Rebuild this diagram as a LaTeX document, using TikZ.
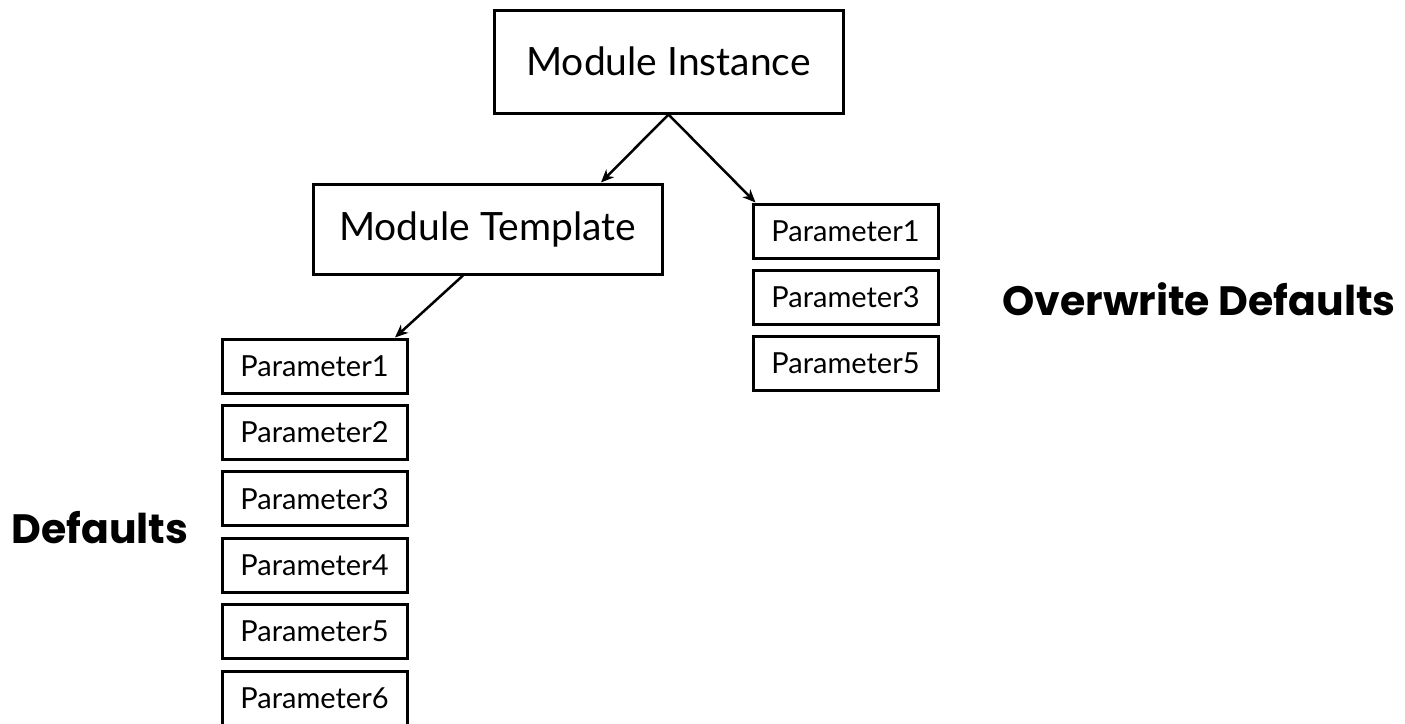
\documentclass[tikz,border=0pt]{standalone}
\usepackage{fontspec}
\usepackage{tikz}
\usetikzlibrary{arrows.meta,%
		positioning}
\newfontfamily\boxfont{Lato}
\newfontfamily\notefont{Poppins}

\tikzset{modulebox/.style={draw, line width=3pt, minimum width=349pt, inner sep=0pt, font=\boxfont\fontsize{39}{42}\selectfont},
         parambox/.style={draw, line width=3pt, minimum width=185pt, minimum height=54pt, inner sep=0pt, font=\boxfont\fontsize{29}{32}\selectfont},
         note/.style={font=\notefont\bfseries\fontsize{41}{46}\selectfont},
         link/.style={line width=2.5pt, -{Stealth[length=13pt,width=11pt,inset=4pt]}}}

\begin{document}
\begin{tikzpicture}[x=1pt,y=-1pt]
  \useasboundingbox[fill=white] (0,0) rectangle (1405,723);

  \node [modulebox, minimum height=103pt] (inst) at (668.5,61.5) {Module Instance};
  \node [modulebox, minimum height=90pt] (tmpl) at (487.5,229) {Module Template};

  % defaults of the template
  \foreach \n in {1,...,6}
    \node [parambox] (lp\n) at (314.5,{366+66.4*(\n-1)}) {Parameter\n};

  % overwritten in the instance
  \foreach \n [count=\i] in {1,3,5}
    \node [parambox] (rp\n) at (845.5,{231+66*(\i-1)}) {Parameter\n};

  \node [note] (defl) at (100,528) {Defaults};
  \node [note] (ovrl) at (1199,299) {Overwrite Defaults};

  \draw [link] (inst.south) -- ([xshift=113.5pt]tmpl.north);
  \draw [link] (inst.south) -- ([xshift=4pt]rp1.north west);
  \draw [link] ([xshift=-24.5pt]tmpl.south) -- ([xshift=80.5pt]lp1.north);

\end{tikzpicture}
\end{document}
